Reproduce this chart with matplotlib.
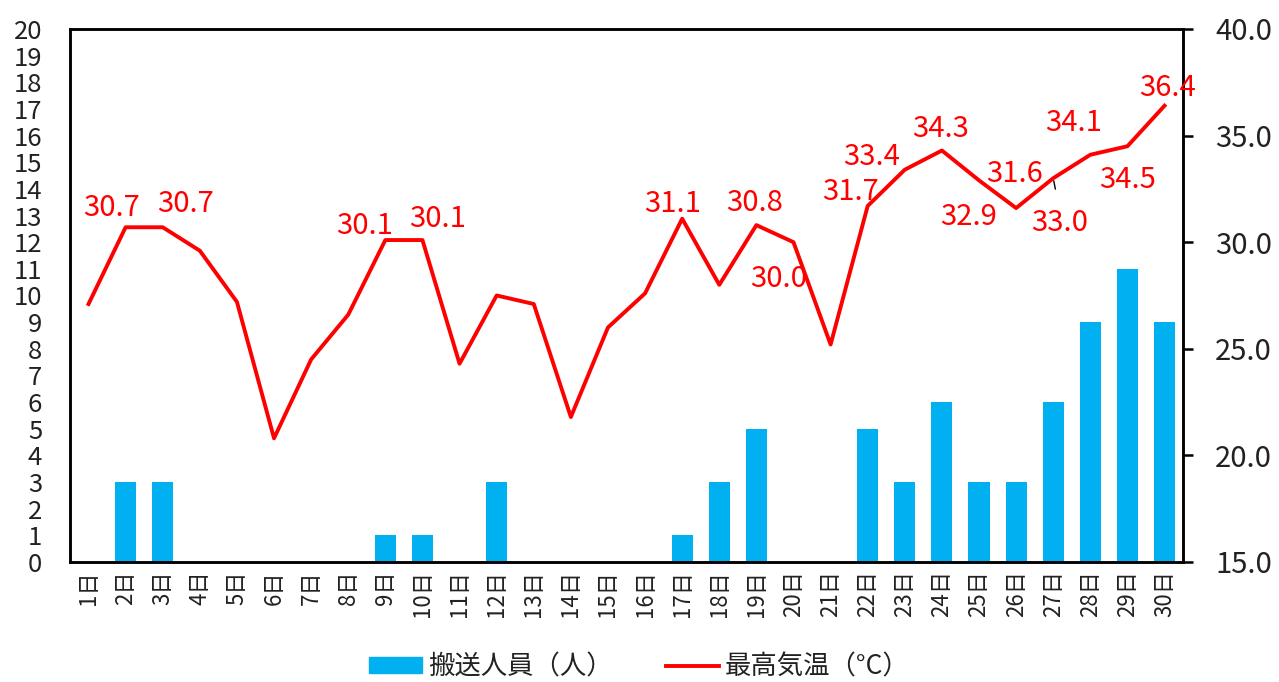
import numpy as np
import matplotlib.pyplot as plt
from matplotlib.patches import Patch
from matplotlib.lines import Line2D

plt.rcParams['font.family'] = ['Noto Sans CJK JP', 'DejaVu Sans']

# データ
days = [f'{d}日' for d in range(1, 31)]
patients = [0, 3, 3, 0, 0, 0, 0, 0, 1, 1, 0, 3, 0, 0, 0, 0, 1, 3, 5, 0,
            0, 5, 3, 6, 3, 3, 6, 9, 11, 9]
max_temp = [27.1, 30.7, 30.7, 29.6, 27.2, 20.8, 24.5, 26.6, 30.1, 30.1,
            24.3, 27.5, 27.1, 21.8, 26.0, 27.6, 31.1, 28.0, 30.8, 30.0,
            25.2, 31.7, 33.4, 34.3, 32.9, 31.6, 33.0, 34.1, 34.5, 36.4]

bar_label = '搬送人員（人）'
line_label = '最高気温（°C）'

# ラベル位置 (px, 上が正)
label_offsets = {2: (-14, 19), 3: (23, 23), 9: (-21, 14), 10: (15, 21),
                 17: (-10, 15), 19: (-2, 22), 20: (-15, -37), 22: (-17, 14),
                 23: (-33, 13), 24: (-1, 22), 25: (-10, -37), 26: (-2, 34),
                 27: (6, -45), 28: (-17, 32), 29: (0, -34), 30: (3, 18)}

bar_color = '#00B0F0'
line_color = '#FF0000'
text_color = '#222222'

fig = plt.figure(figsize=(12.79, 6.82), dpi=100)
ax = fig.add_axes([0.0547, 0.176, 0.8703, 0.7815])
ax2 = ax.twinx()

x = np.arange(len(days))
ax.bar(x, patients, width=0.57, color=bar_color, zorder=2)
ax.set_xlim(-0.5, len(days) - 0.5)
ax.set_ylim(0, 20)
ax.set_yticks(range(0, 21))
ax.tick_params(axis='y', length=0, pad=20, labelsize=18.5, labelcolor=text_color)
ax.set_xticks(x)
ax.set_xticklabels(days, rotation=90, fontsize=16, color=text_color)
ax.tick_params(axis='x', length=0, pad=6)

ax2.plot(x, max_temp, color=line_color, lw=2.8, zorder=3)
ax2.set_ylim(15, 40)
ax2.set_yticks(np.arange(15, 41, 5))
ax2.set_yticklabels([f'{v:.1f}' for v in np.arange(15, 41, 5)])
ax2.tick_params(axis='y', length=7, width=1.8, direction='out', pad=16,
                labelsize=21, labelcolor=text_color)

for spine in ax.spines.values():
    spine.set_linewidth(1.8)
for spine in ax2.spines.values():
    spine.set_linewidth(1.8)

# データラベル
for i, t in enumerate(max_temp):
    day = i + 1
    if day not in label_offsets:
        continue
    dx, dy = label_offsets[day]
    if day == 27:
        ax2.annotate(f'{t:.1f}', xy=(i, t), xytext=(dx * 0.72, dy * 0.72),
                     textcoords='offset points', ha='center', va='center',
                     fontsize=21, color=line_color,
                     arrowprops=dict(arrowstyle='-', color='black', lw=1,
                                     shrinkA=12, shrinkB=2, relpos=(0.5, 1)))
    else:
        ax2.annotate(f'{t:.1f}', xy=(i, t), xytext=(dx * 0.72, dy * 0.72),
                     textcoords='offset points', ha='center', va='center',
                     fontsize=21, color=line_color)

handles = [Patch(color=bar_color, label=bar_label),
           Line2D([0], [0], color=line_color, lw=2.8, label=line_label)]
fig.legend(handles=handles, loc='center', bbox_to_anchor=(0.5, 0.022), ncol=2,
           frameon=False, fontsize=19, handlelength=2.0, handleheight=0.55,
           handletextpad=0.25, columnspacing=2.0, labelcolor=text_color)

fig.savefig('out.png', dpi=100)
